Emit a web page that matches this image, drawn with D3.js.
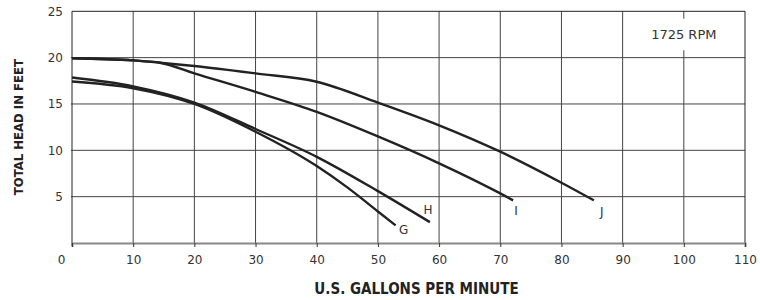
<!DOCTYPE html>
<html>
<head>
<meta charset="utf-8">
<script src="https://cdn.jsdelivr.net/npm/d3@7"></script>
<style>
html,body{margin:0;padding:0;background:#fff;}
svg{display:block;}
</style>
</head>
<body>
<svg id="chart" width="760" height="300"></svg>
<script>
// ---- data ----
const xTicks = [0,10,20,30,40,50,60,70,80,90,100,110];
const yTicks = [5,10,15,20,25];
const curveNames = ["G","H","I","J"];
const gFlow = [0,10,20,30,40,45,50,52.9];
const gHead = [17.42,16.7,15.0,12.0,8.3,6.0,3.4,1.9];
const hFlow = [0,10,20,30,40,50,58.5];
const hHead = [17.85,16.9,15.15,12.3,9.3,5.6,2.25];
const iFlow = [0,10,14.4,20,30,40,50,60,70,72.1];
const iHead = [19.93,19.7,19.45,18.3,16.3,14.15,11.5,8.6,5.35,4.6];
const jFlow = [0,10,14.4,20,30,40,50,60,70,80,85.3];
const jHead = [19.93,19.7,19.45,19.1,18.3,17.4,15.15,12.7,9.85,6.5,4.6];
const speedLabel = "1725 RPM";
const xTitle = "U.S. GALLONS PER MINUTE";
const yTitle = "TOTAL HEAD IN FEET";

// ---- chart ----
const svg = d3.select("#chart");
const x = d3.scaleLinear().domain([0,110]).range([72,745]);
const y = d3.scaleLinear().domain([0,25]).range([243,11.3]);
const font = "'DejaVu Sans', sans-serif";
const titleFont = "'DejaVu Sans Condensed','DejaVu Sans',sans-serif";

// gridlines
svg.append("g").selectAll("line").data(xTicks.filter(d=>d>0 && d<110)).join("line")
  .attr("x1",d=>x(d)).attr("x2",d=>x(d)).attr("y1",y(25)).attr("y2",y(0))
  .attr("stroke","#444").attr("stroke-width",1);
svg.append("g").selectAll("line").data(yTicks.filter(d=>d<25)).join("line")
  .attr("x1",x(0)-1).attr("x2",x(110)).attr("y1",d=>y(d)).attr("y2",d=>y(d))
  .attr("stroke","#444").attr("stroke-width",1);

// RPM label box
const rpmG = svg.append("g");
rpmG.append("rect").attr("x",x(93)).attr("y",y(24.2)).attr("width",x(105)-x(93)).attr("height",y(20.8)-y(24.2)).attr("fill","#fff");
rpmG.append("text").attr("x",(x(90)+x(110))/2).attr("y",y(22.5)).attr("dy","0.35em")
  .attr("text-anchor","middle").attr("font-family",font).attr("font-size",13).attr("fill","#333").text(speedLabel);

// borders
svg.append("line").attr("x1",x(0)).attr("x2",x(110)).attr("y1",y(25)).attr("y2",y(25)).attr("stroke","#222").attr("stroke-width",1);
svg.append("line").attr("x1",x(110)).attr("x2",x(110)).attr("y1",y(25)).attr("y2",y(0)).attr("stroke","#222").attr("stroke-width",1);
svg.append("line").attr("x1",x(0)).attr("x2",x(0)).attr("y1",y(25)).attr("y2",y(0)+3).attr("stroke","#222").attr("stroke-width",1);

// x axis
const xAxis = svg.append("g").attr("transform",`translate(0,${y(0)})`)
  .call(d3.axisBottom(x).tickValues(xTicks).tickSize(4).tickPadding(8).tickFormat(d3.format("d")));
xAxis.select(".domain").attr("stroke","#888").attr("stroke-width",2);
xAxis.selectAll(".tick line").attr("stroke","#333");
xAxis.selectAll("text").attr("font-family",font).attr("font-size",12).attr("fill","#333")
  .attr("dx",d=>d===0?-11:0);

// y axis
const yAxis = svg.append("g").attr("transform",`translate(${x(0)},0)`)
  .call(d3.axisLeft(y).tickValues(yTicks).tickSize(0).tickPadding(9).tickFormat(d3.format("d")));
yAxis.select(".domain").remove();
yAxis.selectAll("text").attr("font-family",font).attr("font-size",12).attr("fill","#333");

// curves
const series = [
  {name:curveNames[0], flow:gFlow, head:gHead, dx:8, dy:4},
  {name:curveNames[1], flow:hFlow, head:hHead, dx:-2, dy:-12},
  {name:curveNames[2], flow:iFlow, head:iHead, dx:3, dy:10},
  {name:curveNames[3], flow:jFlow, head:jHead, dx:8, dy:11}
];
const line = d3.line().x(d=>x(d[0])).y(d=>y(d[1])).curve(d3.curveMonotoneX);
series.forEach(s=>{
  const pts = s.flow.map((f,i)=>[f,s.head[i]]);
  svg.append("path").attr("d",line(pts)).attr("fill","none").attr("stroke","#222").attr("stroke-width",2.4)
    .attr("stroke-linecap","butt").attr("stroke-linejoin","round");
  const last = pts[pts.length-1];
  svg.append("text").attr("x",x(last[0])+s.dx).attr("y",y(last[1])+s.dy).attr("dy","0.35em")
    .attr("text-anchor","middle").attr("font-family",font).attr("font-size",12).attr("fill","#333").text(s.name);
});

// axis titles
svg.append("text").attr("x",(x(0)+x(110))/2+8).attr("y",294)
  .attr("text-anchor","middle").attr("font-family",titleFont)
  .attr("font-weight","bold").attr("font-size",15).attr("fill","#222").text(xTitle);
svg.append("text").attr("transform",`translate(23,${(y(0)+y(25))/2}) rotate(-90)`)
  .attr("text-anchor","middle").attr("font-family",titleFont)
  .attr("font-weight","bold").attr("font-size",13).attr("fill","#222").text(yTitle);
</script>
</body>
</html>
